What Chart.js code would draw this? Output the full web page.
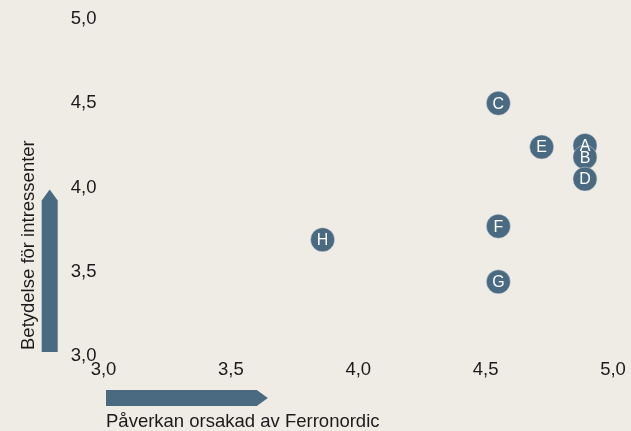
<!DOCTYPE html>
<html>
<head>
<meta charset="utf-8">
<script src="https://cdn.jsdelivr.net/npm/chart.js@4/dist/chart.umd.min.js"></script>
<style>
  html, body { margin: 0; padding: 0; background: #efebe5; }
  #wrap { width: 631px; height: 431px; position: relative; }
</style>
</head>
<body>
<div id="wrap"><canvas id="c"></canvas></div>
<script>
// ---- data ----
const pointLabels = ['A', 'B', 'C', 'D', 'E', 'F', 'G', 'H'];
const xValues = [4.89, 4.89, 4.55, 4.89, 4.72, 4.55, 4.55, 3.86];
const yValues = [4.25, 4.18, 4.50, 4.05, 4.24, 3.77, 3.44, 3.69];
const xTickLabels = ['3,0', '3,5', '4,0', '4,5', '5,0'];
const yTickLabels = ['3,0', '3,5', '4,0', '4,5', '5,0'];
const xTitle = 'Påverkan orsakad av Ferronordic';
const yTitle = 'Betydelse för intressenter';

const FONT = '"Liberation Sans", Arial, sans-serif';
const MARK = '#496a80';
const TEXT = '#1b1b1b';

const decor = {
  id: 'decor',
  beforeDraw(chart) {
    const ctx = chart.ctx;
    ctx.save();
    ctx.fillStyle = '#efebe5';
    ctx.fillRect(0, 0, chart.width, chart.height);
    ctx.restore();
  },
  afterDatasetsDraw(chart) {
    const ctx = chart.ctx;
    const xs = chart.scales.x, ys = chart.scales.y;
    const meta = chart.getDatasetMeta(0);
    ctx.save();
    // letters inside markers
    ctx.fillStyle = '#ffffff';
    ctx.font = '16px ' + FONT;
    ctx.textAlign = 'center';
    ctx.textBaseline = 'middle';
    meta.data.forEach((el, i) => {
      ctx.fillText(pointLabels[i], el.x, el.y + 1);
    });

    // vertical arrow
    const ax0 = 41.7, ax1 = 57.7;
    const yBottom = ys.getPixelForValue(3.0) - 4;
    const yTip = ys.getPixelForValue(4.0) + 2;
    const yShoulder = yTip + 11;
    ctx.fillStyle = MARK;
    ctx.beginPath();
    ctx.moveTo(ax0, yBottom);
    ctx.lineTo(ax0, yShoulder);
    ctx.lineTo((ax0 + ax1) / 2, yTip);
    ctx.lineTo(ax1, yShoulder);
    ctx.lineTo(ax1, yBottom);
    ctx.closePath();
    ctx.fill();

    // horizontal arrow
    const hy0 = 390, hy1 = 406;
    const xStart = xs.getPixelForValue(3.0) + 2.5;
    const xTip = xs.getPixelForValue(3.645);
    const xShoulder = xTip - 11;
    ctx.beginPath();
    ctx.moveTo(xStart, hy0);
    ctx.lineTo(xShoulder, hy0);
    ctx.lineTo(xTip, (hy0 + hy1) / 2);
    ctx.lineTo(xShoulder, hy1);
    ctx.lineTo(xStart, hy1);
    ctx.closePath();
    ctx.fill();

    // axis titles
    ctx.fillStyle = TEXT;
    ctx.font = '18.5px ' + FONT;
    ctx.textAlign = 'left';
    ctx.textBaseline = 'alphabetic';
    ctx.fillText(xTitle, xs.getPixelForValue(3.0) + 2.5, 427);

    ctx.translate(33.5, ys.getPixelForValue(3.0) - 6);
    ctx.rotate(-Math.PI / 2);
    ctx.fillText(yTitle, 0, 0);
    ctx.restore();
  }
};

new Chart(document.getElementById('c'), {
  type: 'scatter',
  data: {
    datasets: [{
      data: xValues.map((x, i) => ({ x: x, y: yValues[i] })),
      backgroundColor: MARK,
      borderColor: 'rgba(225,230,235,0.55)',
      borderWidth: 0.8,
      pointRadius: 12,
      pointHoverRadius: 12
    }]
  },
  plugins: [decor],
  options: {
    responsive: true,
    maintainAspectRatio: false,
    animation: false,
    events: [],
    layout: { padding: { top: 19, right: 18, bottom: 0, left: 0 } },
    plugins: { legend: { display: false }, tooltip: { enabled: false } },
    scales: {
      x: {
        type: 'linear', min: 3, max: 5,
        grid: { display: false, drawTicks: false },
        border: { display: false },
        ticks: {
          stepSize: 0.5, padding: 3, color: TEXT,
          font: { family: FONT, size: 18.5 },
          maxRotation: 0,
          callback: (v) => xTickLabels[Math.round((v - 3) / 0.5)]
        },
        afterFit: (s) => { s.height = 75; }
      },
      y: {
        type: 'linear', min: 3, max: 5,
        grid: { display: false, drawTicks: false },
        border: { display: false },
        ticks: {
          stepSize: 0.5, padding: 7, color: TEXT,
          font: { family: FONT, size: 18.5 },
          callback: (v) => yTickLabels[Math.round((v - 3) / 0.5)]
        },
        afterFit: (s) => { s.width = 103.5; }
      }
    }
  }
});
</script>
</body>
</html>
